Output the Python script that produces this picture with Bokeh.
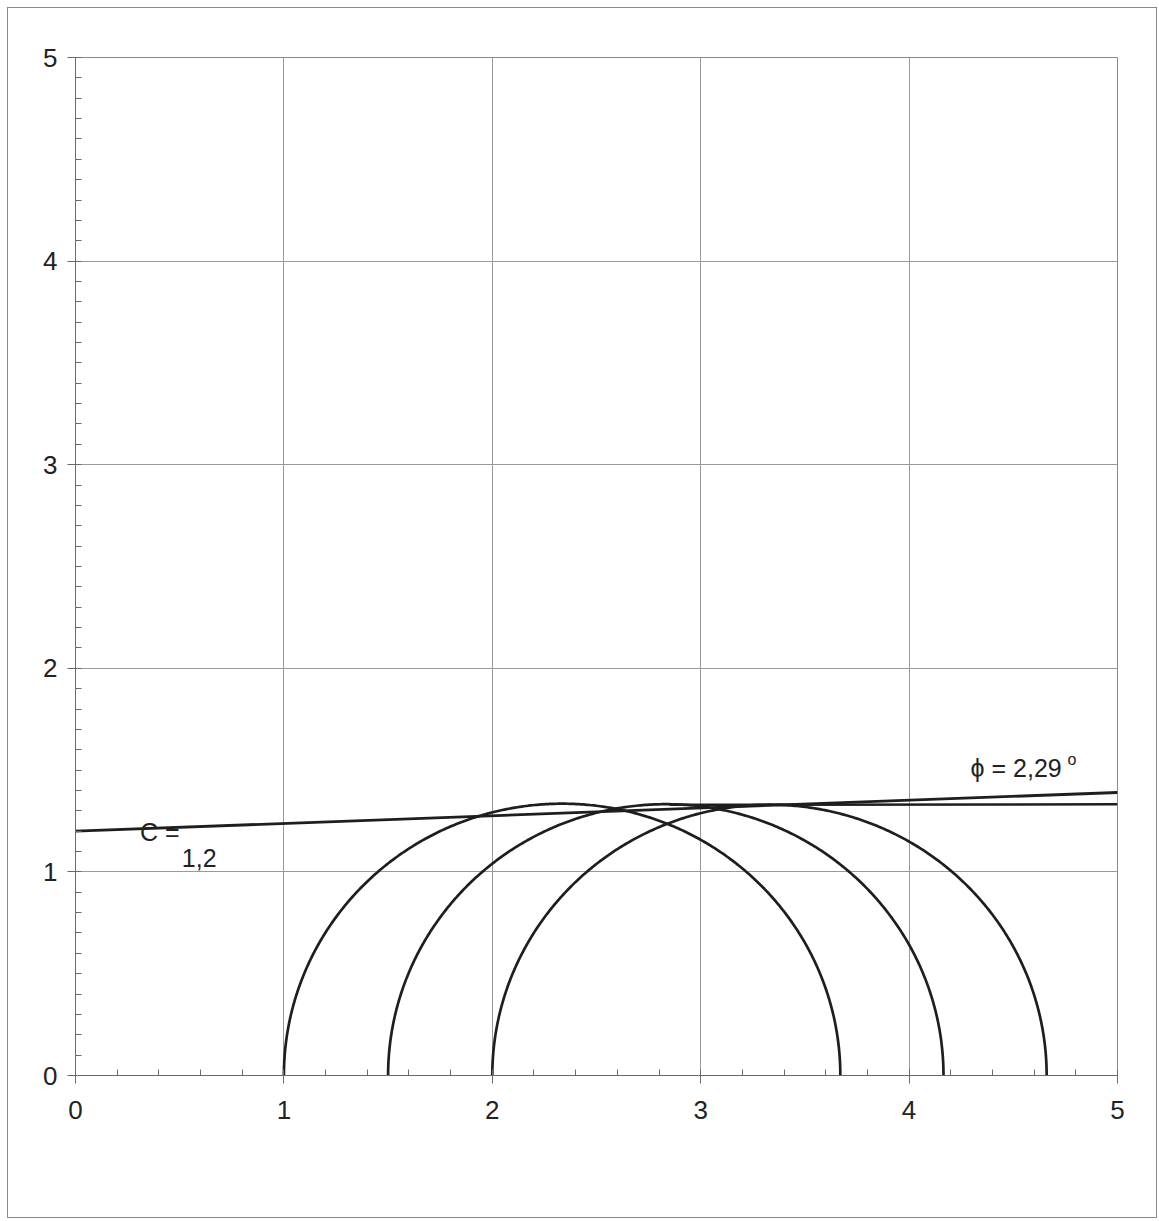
import numpy as np
from bokeh.plotting import figure
from bokeh.models import FixedTicker, Label
from bokeh.embed import file_html
from bokeh.resources import INLINE

# ---- data ----
sigma3 = [1.0, 1.5, 2.0]          # left end of each Mohr circle
sigma1 = [3.67, 4.165, 4.66]      # right end of each Mohr circle
env1_x = [0.0, 5.0]               # failure envelope (c = 1,2 ; phi = 2,29 deg)
env1_y = [1.2, 1.39]
env2_x = [2.85, 5.0]              # second, nearly horizontal line
env2_y = [1.33, 1.332]
x_ticks = [0, 1, 2, 3, 4, 5]
y_ticks = [0, 1, 2, 3, 4, 5]
label_c = ["C =", "1,2"]
label_phi = "\u03d5 = 2,29"
label_deg = "o"

FONT = "Liberation Sans"

p = figure(width=1150, height=1211, x_range=(0, 5), y_range=(0, 5),
           output_backend="svg", toolbar_location=None,
           min_border_left=67, min_border_top=49, min_border_right=41,
           min_border_bottom=144)
p.styles = {"border": "1px solid #8a8a8a", "margin-left": "7px", "margin-top": "7px"}
p.background_fill_color = "white"
p.border_fill_color = "white"
p.outline_line_color = "#8a8a8a"
p.outline_line_width = 1

x_minor = [round(i * 0.2, 2) for i in range(26)]
y_minor = [round(i * 0.1, 2) for i in range(51)]
p.xaxis.ticker = FixedTicker(ticks=x_ticks, minor_ticks=x_minor)
p.yaxis.ticker = FixedTicker(ticks=y_ticks, minor_ticks=y_minor)
p.xgrid.ticker = FixedTicker(ticks=x_ticks)
p.ygrid.ticker = FixedTicker(ticks=y_ticks)
p.grid.grid_line_color = "#9a9a9a"
p.grid.grid_line_width = 1

for ax in (p.xaxis[0], p.yaxis[0]):
    ax.axis_line_color = "#6a6a6a"
    ax.major_tick_line_color = "#6a6a6a"
    ax.minor_tick_line_color = "#6a6a6a"
    ax.major_tick_in = 0
    ax.major_tick_out = 8
    ax.minor_tick_in = 6
    ax.minor_tick_out = 0
    ax.major_label_text_font = FONT
    ax.major_label_text_font_size = "26px"
    ax.major_label_text_color = "#222222"
p.xaxis.major_label_standoff = 17
p.yaxis.major_label_standoff = 10

# Mohr circles (upper halves), built from sigma3/sigma1
theta = np.linspace(0, np.pi, 400)
for s3, s1 in zip(sigma3, sigma1):
    c = (s1 + s3) / 2.0
    r = (s1 - s3) / 2.0
    p.line(c + r * np.cos(theta), r * np.sin(theta), line_color="#1e1e1e", line_width=2.7)

p.line(env1_x, env1_y, line_color="#1e1e1e", line_width=2.8)
p.line(env2_x, env2_y, line_color="#1e1e1e", line_width=2.5)

txt = dict(text_font=FONT, text_font_size="25px", text_color="#222222")
p.add_layout(Label(x=0.31, y=1.195, text=label_c[0], text_baseline="middle", **txt))
p.add_layout(Label(x=0.51, y=1.067, text=label_c[1], text_baseline="middle", **txt))
p.add_layout(Label(x=4.295, y=1.51, text=label_phi, text_baseline="middle", **txt))
p.add_layout(Label(x=4.76, y=1.55, text=label_deg, text_baseline="middle",
                   text_font=FONT, text_font_size="16px", text_color="#222222"))

open("out.html", "w").write(file_html(p, INLINE))
